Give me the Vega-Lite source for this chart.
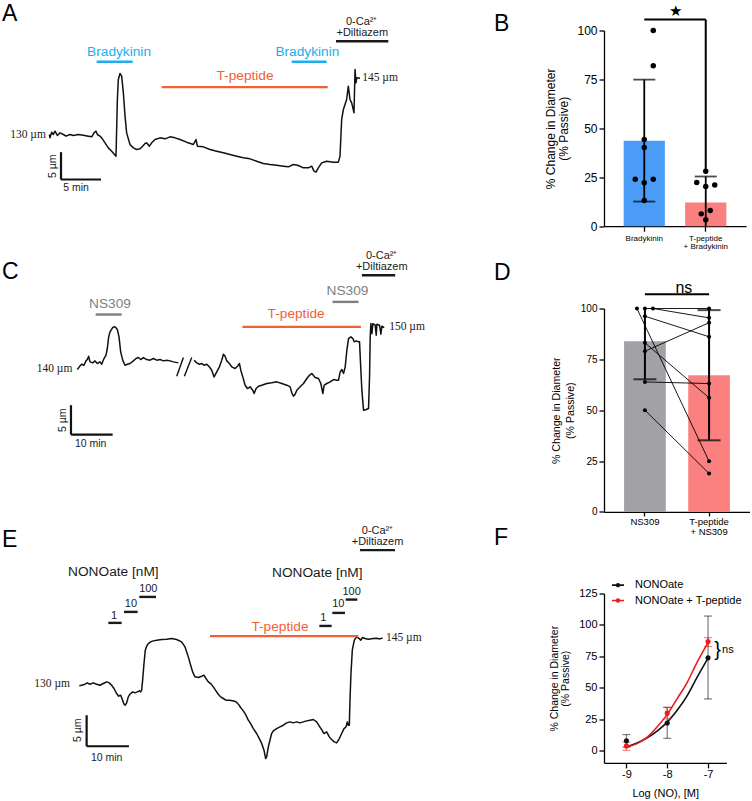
{
"$schema":"https://vega.github.io/schema/vega-lite/v6.json",
"background":"white",
"padding":{"top":2.5,"left":0,"right":0,"bottom":0},
"bounds":"flush",
"columns":2,
"spacing":{"row":0,"column":184},
"resolve":{"scale":{"x":"independent","y":"independent","color":"independent","size":"independent","xOffset":"independent","fill":"independent","stroke":"independent"}},
"config":{"view":{"stroke":null},"font":"Liberation Sans",
 "title":{"fontSize":23,"fontWeight":"normal","anchor":"start","frame":"group","offset":0,"color":"black","font":"Liberation Sans","baseline":"alphabetic"},
 "axis":{"domainColor":"black","tickColor":"black","labelColor":"black","titleColor":"black","grid":false,"titleFontWeight":"normal","domainWidth":1.3,"tickWidth":1.3,"labelFont":"Liberation Sans","titleFont":"Liberation Sans","labelOverlap":false}},
"datasets":{
"trace":[
{"p":"A","s":1,"t":-0.08,"d":130.37},{"p":"A","s":1,"t":0,"d":129.75},{"p":"A","s":1,"t":0.21,"d":130.8},{"p":"A","s":1,"t":0.42,"d":130.37},{"p":"A","s":1,"t":0.63,"d":130.99},{"p":"A","s":1,"t":0.92,"d":130.19},{"p":"A","s":1,"t":1.25,"d":130.68},{"p":"A","s":1,"t":1.67,"d":130.37},{"p":"A","s":1,"t":2.0,"d":130.06},{"p":"A","s":1,"t":2.5,"d":130.37},{"p":"A","s":1,"t":2.92,"d":130.19},{"p":"A","s":1,"t":3.54,"d":130.37},{"p":"A","s":1,"t":4.17,"d":130.25},{"p":"A","s":1,"t":4.79,"d":130.06},{"p":"A","s":1,"t":5.21,"d":129.94},{"p":"A","s":1,"t":5.5,"d":130.68},{"p":"A","s":1,"t":5.75,"d":130.99},{"p":"A","s":1,"t":5.92,"d":130.37},{"p":"A","s":1,"t":6.25,"d":130.06},{"p":"A","s":1,"t":6.46,"d":129.75},{"p":"A","s":1,"t":6.88,"d":128.83},{"p":"A","s":1,"t":7.29,"d":127.9},{"p":"A","s":1,"t":7.71,"d":127.28},{"p":"A","s":1,"t":8.25,"d":126.36},{"p":"A","s":1,"t":8.42,"d":136.85},{"p":"A","s":1,"t":8.54,"d":140.56},{"p":"A","s":1,"t":8.75,"d":141.67},{"p":"A","s":1,"t":8.96,"d":141.17},{"p":"A","s":1,"t":9.17,"d":138.09},{"p":"A","s":1,"t":9.38,"d":133.77},{"p":"A","s":1,"t":9.58,"d":130.68},{"p":"A","s":1,"t":10.0,"d":128.52},{"p":"A","s":1,"t":10.42,"d":127.9},{"p":"A","s":1,"t":10.83,"d":127.59},{"p":"A","s":1,"t":11.25,"d":127.72},{"p":"A","s":1,"t":11.58,"d":128.21},{"p":"A","s":1,"t":11.88,"d":128.7},{"p":"A","s":1,"t":12.08,"d":128.83},{"p":"A","s":1,"t":12.42,"d":128.21},{"p":"A","s":1,"t":12.71,"d":128.83},{"p":"A","s":1,"t":13.13,"d":129.44},{"p":"A","s":1,"t":13.75,"d":129.75},{"p":"A","s":1,"t":14.38,"d":129.57},{"p":"A","s":1,"t":15.0,"d":129.94},{"p":"A","s":1,"t":15.63,"d":129.75},{"p":"A","s":1,"t":16.25,"d":129.44},{"p":"A","s":1,"t":17.08,"d":128.95},{"p":"A","s":1,"t":17.92,"d":128.52},{"p":"A","s":1,"t":18.25,"d":129.44},{"p":"A","s":1,"t":18.42,"d":128.21},{"p":"A","s":1,"t":19.17,"d":128.09},{"p":"A","s":1,"t":20.0,"d":127.59},{"p":"A","s":1,"t":20.83,"d":127.28},{"p":"A","s":1,"t":21.67,"d":126.98},{"p":"A","s":1,"t":22.5,"d":126.67},{"p":"A","s":1,"t":23.33,"d":126.36},{"p":"A","s":1,"t":24.17,"d":126.05},{"p":"A","s":1,"t":25.0,"d":125.86},{"p":"A","s":1,"t":25.83,"d":125.43},{"p":"A","s":1,"t":26.67,"d":125.0},{"p":"A","s":1,"t":27.5,"d":124.81},{"p":"A","s":1,"t":28.33,"d":124.69},{"p":"A","s":1,"t":29.17,"d":124.51},{"p":"A","s":1,"t":29.79,"d":124.38},{"p":"A","s":1,"t":30.42,"d":124.81},{"p":"A","s":1,"t":31.04,"d":124.63},{"p":"A","s":1,"t":31.67,"d":124.2},{"p":"A","s":1,"t":32.29,"d":124.2},{"p":"A","s":1,"t":32.71,"d":124.51},{"p":"A","s":1,"t":33.0,"d":123.58},{"p":"A","s":1,"t":33.25,"d":123.4},{"p":"A","s":1,"t":33.54,"d":124.2},{"p":"A","s":1,"t":33.96,"d":125.12},{"p":"A","s":1,"t":34.58,"d":125.43},{"p":"A","s":1,"t":35.42,"d":125.25},{"p":"A","s":1,"t":36.04,"d":125.25},{"p":"A","s":1,"t":36.25,"d":126.36},{"p":"A","s":1,"t":36.46,"d":133.15},{"p":"A","s":1,"t":36.67,"d":135.0},{"p":"A","s":1,"t":37.08,"d":136.85},{"p":"A","s":1,"t":37.29,"d":139.32},{"p":"A","s":1,"t":37.5,"d":136.85},{"p":"A","s":1,"t":37.71,"d":136.23},{"p":"A","s":1,"t":38.0,"d":134.38},{"p":"A","s":1,"t":38.13,"d":142.41},{"p":"A","s":1,"t":38.25,"d":139.94},{"p":"A","s":1,"t":38.33,"d":140.86},{"p":"A","s":1,"t":38.75,"d":140.8},
{"p":"C","s":1,"t":0,"d":139.99},{"p":"C","s":1,"t":0.48,"d":140.45},{"p":"C","s":1,"t":1.04,"d":140.9},{"p":"C","s":1,"t":1.6,"d":140.73},{"p":"C","s":1,"t":2.08,"d":141.47},{"p":"C","s":1,"t":2.4,"d":141.7},{"p":"C","s":1,"t":2.72,"d":142.27},{"p":"C","s":1,"t":3.04,"d":141.3},{"p":"C","s":1,"t":3.68,"d":141.13},{"p":"C","s":1,"t":4.24,"d":141.47},{"p":"C","s":1,"t":4.8,"d":141.02},{"p":"C","s":1,"t":5.44,"d":141.3},{"p":"C","s":1,"t":5.84,"d":140.9},{"p":"C","s":1,"t":6.4,"d":141.87},{"p":"C","s":1,"t":6.88,"d":142.44},{"p":"C","s":1,"t":7.2,"d":143.58},{"p":"C","s":1,"t":7.52,"d":145.57},{"p":"C","s":1,"t":7.84,"d":146.42},{"p":"C","s":1,"t":8.48,"d":147.16},{"p":"C","s":1,"t":9.04,"d":147.28},{"p":"C","s":1,"t":9.6,"d":146.82},{"p":"C","s":1,"t":10.0,"d":145.57},{"p":"C","s":1,"t":10.4,"d":143.01},{"p":"C","s":1,"t":10.88,"d":141.59},{"p":"C","s":1,"t":11.44,"d":140.73},{"p":"C","s":1,"t":12.0,"d":140.9},{"p":"C","s":1,"t":12.64,"d":141.02},{"p":"C","s":1,"t":13.44,"d":141.47},{"p":"C","s":1,"t":14.08,"d":141.87},{"p":"C","s":1,"t":14.64,"d":142.04},{"p":"C","s":1,"t":15.2,"d":141.7},{"p":"C","s":1,"t":15.84,"d":142.04},{"p":"C","s":1,"t":16.64,"d":141.7},{"p":"C","s":1,"t":17.44,"d":141.59},{"p":"C","s":1,"t":18.24,"d":141.87},{"p":"C","s":1,"t":19.04,"d":141.59},{"p":"C","s":1,"t":19.84,"d":141.7},{"p":"C","s":1,"t":20.64,"d":141.47},{"p":"C","s":1,"t":21.44,"d":141.59},{"p":"C","s":1,"t":22.24,"d":141.47},{"p":"C","s":1,"t":23.04,"d":141.3},{"p":"C","s":1,"t":24.24,"d":141.13},
{"p":"C","s":2,"t":28.0,"d":141.59},{"p":"C","s":2,"t":28.64,"d":141.13},{"p":"C","s":2,"t":29.28,"d":140.9},{"p":"C","s":2,"t":29.84,"d":141.02},{"p":"C","s":2,"t":30.4,"d":140.73},{"p":"C","s":2,"t":31.04,"d":140.9},{"p":"C","s":2,"t":31.68,"d":140.45},{"p":"C","s":2,"t":32.24,"d":139.88},{"p":"C","s":2,"t":32.8,"d":138.74},{"p":"C","s":2,"t":33.44,"d":139.6},{"p":"C","s":2,"t":34.08,"d":140.45},{"p":"C","s":2,"t":34.64,"d":141.59},{"p":"C","s":2,"t":35.04,"d":142.61},{"p":"C","s":2,"t":35.44,"d":142.27},{"p":"C","s":2,"t":35.84,"d":141.47},{"p":"C","s":2,"t":36.48,"d":141.02},{"p":"C","s":2,"t":37.04,"d":140.45},{"p":"C","s":2,"t":37.84,"d":140.17},{"p":"C","s":2,"t":38.4,"d":140.56},{"p":"C","s":2,"t":38.88,"d":141.02},{"p":"C","s":2,"t":39.2,"d":139.88},{"p":"C","s":2,"t":39.68,"d":138.74},{"p":"C","s":2,"t":40.24,"d":137.32},{"p":"C","s":2,"t":40.8,"d":136.75},{"p":"C","s":2,"t":41.44,"d":137.04},{"p":"C","s":2,"t":42.08,"d":136.47},{"p":"C","s":2,"t":42.4,"d":135.9},{"p":"C","s":2,"t":42.88,"d":136.75},{"p":"C","s":2,"t":43.44,"d":137.15},{"p":"C","s":2,"t":44.24,"d":137.32},{"p":"C","s":2,"t":45.44,"d":137.61},{"p":"C","s":2,"t":46.64,"d":137.72},{"p":"C","s":2,"t":47.84,"d":137.89},{"p":"C","s":2,"t":49.04,"d":137.61},{"p":"C","s":2,"t":50.24,"d":137.32},{"p":"C","s":2,"t":51.04,"d":137.04},{"p":"C","s":2,"t":51.44,"d":136.02},{"p":"C","s":2,"t":51.84,"d":135.45},{"p":"C","s":2,"t":52.24,"d":135.79},{"p":"C","s":2,"t":52.64,"d":136.47},{"p":"C","s":2,"t":53.44,"d":137.04},{"p":"C","s":2,"t":54.24,"d":137.61},{"p":"C","s":2,"t":55.04,"d":138.46},{"p":"C","s":2,"t":55.68,"d":139.03},{"p":"C","s":2,"t":56.24,"d":139.31},{"p":"C","s":2,"t":57.04,"d":138.63},{"p":"C","s":2,"t":57.84,"d":138.46},{"p":"C","s":2,"t":58.4,"d":137.61},{"p":"C","s":2,"t":58.88,"d":135.9},{"p":"C","s":2,"t":59.2,"d":137.32},{"p":"C","s":2,"t":59.84,"d":137.61},{"p":"C","s":2,"t":60.64,"d":137.89},{"p":"C","s":2,"t":61.44,"d":138.29},{"p":"C","s":2,"t":62.24,"d":138.17},{"p":"C","s":2,"t":62.64,"d":138.17},{"p":"C","s":2,"t":63.04,"d":139.6},{"p":"C","s":2,"t":63.44,"d":139.99},{"p":"C","s":2,"t":63.84,"d":139.31},{"p":"C","s":2,"t":64.24,"d":140.45},{"p":"C","s":2,"t":64.64,"d":143.29},{"p":"C","s":2,"t":65.04,"d":145.28},{"p":"C","s":2,"t":65.6,"d":145.57},{"p":"C","s":2,"t":66.08,"d":145.28},{"p":"C","s":2,"t":66.4,"d":144.72},{"p":"C","s":2,"t":66.88,"d":144.89},{"p":"C","s":2,"t":67.44,"d":144.72},{"p":"C","s":2,"t":67.68,"d":144.72},{"p":"C","s":2,"t":68.0,"d":139.88},{"p":"C","s":2,"t":68.24,"d":136.47},{"p":"C","s":2,"t":68.64,"d":133.06},{"p":"C","s":2,"t":69.28,"d":133.17},{"p":"C","s":2,"t":69.84,"d":133.34},{"p":"C","s":2,"t":70.08,"d":138.74},{"p":"C","s":2,"t":70.24,"d":145.57},{"p":"C","s":2,"t":70.4,"d":147.84},{"p":"C","s":2,"t":70.64,"d":146.13},{"p":"C","s":2,"t":70.88,"d":147.84},{"p":"C","s":2,"t":71.44,"d":147.56},{"p":"C","s":2,"t":71.68,"d":145.85},{"p":"C","s":2,"t":71.84,"d":147.73},{"p":"C","s":2,"t":72.48,"d":147.56},{"p":"C","s":2,"t":72.8,"d":146.02},{"p":"C","s":2,"t":73.04,"d":147.39},{"p":"C","s":2,"t":73.6,"d":147.16},
{"p":"E","s":1,"t":0,"d":130.01},{"p":"E","s":1,"t":0.55,"d":130.11},{"p":"E","s":1,"t":1.34,"d":130.27},{"p":"E","s":1,"t":1.89,"d":130.49},{"p":"E","s":1,"t":2.52,"d":130.27},{"p":"E","s":1,"t":3.31,"d":130.49},{"p":"E","s":1,"t":4.1,"d":130.27},{"p":"E","s":1,"t":4.89,"d":130.11},{"p":"E","s":1,"t":5.67,"d":130.38},{"p":"E","s":1,"t":6.46,"d":130.65},{"p":"E","s":1,"t":7.09,"d":130.49},{"p":"E","s":1,"t":7.64,"d":130.11},{"p":"E","s":1,"t":8.2,"d":129.58},{"p":"E","s":1,"t":8.83,"d":128.77},{"p":"E","s":1,"t":9.3,"d":128.34},{"p":"E","s":1,"t":9.77,"d":128.5},{"p":"E","s":1,"t":10.24,"d":127.69},{"p":"E","s":1,"t":10.56,"d":127.05},{"p":"E","s":1,"t":10.87,"d":126.89},{"p":"E","s":1,"t":11.19,"d":127.27},{"p":"E","s":1,"t":11.58,"d":128.23},{"p":"E","s":1,"t":11.98,"d":128.66},{"p":"E","s":1,"t":12.61,"d":129.04},{"p":"E","s":1,"t":13.16,"d":128.88},{"p":"E","s":1,"t":13.71,"d":129.04},{"p":"E","s":1,"t":14.18,"d":129.2},{"p":"E","s":1,"t":14.5,"d":129.04},{"p":"E","s":1,"t":14.74,"d":129.31},{"p":"E","s":1,"t":14.97,"d":130.92},{"p":"E","s":1,"t":15.29,"d":133.61},{"p":"E","s":1,"t":15.6,"d":135.76},{"p":"E","s":1,"t":15.92,"d":136.4},{"p":"E","s":1,"t":16.31,"d":136.83},{"p":"E","s":1,"t":16.86,"d":137.1},{"p":"E","s":1,"t":17.49,"d":137.26},{"p":"E","s":1,"t":18.28,"d":137.37},{"p":"E","s":1,"t":19.46,"d":137.48},{"p":"E","s":1,"t":20.65,"d":137.53},{"p":"E","s":1,"t":21.83,"d":137.64},{"p":"E","s":1,"t":23.01,"d":137.48},{"p":"E","s":1,"t":24.19,"d":137.1},{"p":"E","s":1,"t":24.98,"d":136.3},{"p":"E","s":1,"t":25.77,"d":134.68},{"p":"E","s":1,"t":26.32,"d":133.34},{"p":"E","s":1,"t":26.79,"d":132.26},{"p":"E","s":1,"t":27.34,"d":131.46},{"p":"E","s":1,"t":28.13,"d":131.35},{"p":"E","s":1,"t":28.92,"d":131.56},{"p":"E","s":1,"t":29.47,"d":131.73},{"p":"E","s":1,"t":29.94,"d":131.19},{"p":"E","s":1,"t":30.5,"d":130.65},{"p":"E","s":1,"t":31.05,"d":130.38},{"p":"E","s":1,"t":31.68,"d":129.84},{"p":"E","s":1,"t":32.31,"d":129.2},{"p":"E","s":1,"t":32.86,"d":128.66},{"p":"E","s":1,"t":33.41,"d":128.23},{"p":"E","s":1,"t":34.04,"d":127.97},{"p":"E","s":1,"t":34.67,"d":127.7},{"p":"E","s":1,"t":35.46,"d":127.7},{"p":"E","s":1,"t":36.25,"d":127.59},{"p":"E","s":1,"t":37.04,"d":127.43},{"p":"E","s":1,"t":37.59,"d":127.05},{"p":"E","s":1,"t":38.14,"d":126.51},{"p":"E","s":1,"t":38.77,"d":125.97},{"p":"E","s":1,"t":39.4,"d":125.27},{"p":"E","s":1,"t":39.95,"d":124.47},{"p":"E","s":1,"t":40.5,"d":123.93},{"p":"E","s":1,"t":41.14,"d":123.12},{"p":"E","s":1,"t":41.92,"d":122.32},{"p":"E","s":1,"t":42.55,"d":121.51},{"p":"E","s":1,"t":43.18,"d":120.6},{"p":"E","s":1,"t":43.66,"d":119.63},{"p":"E","s":1,"t":44.05,"d":118.28},{"p":"E","s":1,"t":44.29,"d":118.55},{"p":"E","s":1,"t":44.68,"d":120.17},{"p":"E","s":1,"t":45.07,"d":121.24},{"p":"E","s":1,"t":45.47,"d":122.32},{"p":"E","s":1,"t":45.86,"d":122.75},{"p":"E","s":1,"t":46.65,"d":123.12},{"p":"E","s":1,"t":47.44,"d":123.39},{"p":"E","s":1,"t":48.23,"d":123.66},{"p":"E","s":1,"t":49.01,"d":124.04},{"p":"E","s":1,"t":49.8,"d":124.2},{"p":"E","s":1,"t":50.59,"d":124.04},{"p":"E","s":1,"t":51.38,"d":124.2},{"p":"E","s":1,"t":52.17,"d":124.04},{"p":"E","s":1,"t":52.96,"d":124.2},{"p":"E","s":1,"t":53.74,"d":124.36},{"p":"E","s":1,"t":54.53,"d":124.47},{"p":"E","s":1,"t":55.32,"d":124.58},{"p":"E","s":1,"t":56.11,"d":124.2},{"p":"E","s":1,"t":56.74,"d":123.5},{"p":"E","s":1,"t":57.29,"d":122.96},{"p":"E","s":1,"t":57.84,"d":122.32},{"p":"E","s":1,"t":58.47,"d":122.58},{"p":"E","s":1,"t":59.1,"d":121.78},{"p":"E","s":1,"t":59.65,"d":121.35},{"p":"E","s":1,"t":60.28,"d":120.97},{"p":"E","s":1,"t":60.84,"d":120.81},{"p":"E","s":1,"t":61.47,"d":121.51},{"p":"E","s":1,"t":62.02,"d":122.32},{"p":"E","s":1,"t":62.57,"d":123.12},{"p":"E","s":1,"t":63.04,"d":123.39},{"p":"E","s":1,"t":63.36,"d":124.2},{"p":"E","s":1,"t":63.59,"d":123.66},{"p":"E","s":1,"t":63.83,"d":123.66},{"p":"E","s":1,"t":63.99,"d":127.69},{"p":"E","s":1,"t":64.22,"d":131.99},{"p":"E","s":1,"t":64.54,"d":135.76},{"p":"E","s":1,"t":65.01,"d":137.37},{"p":"E","s":1,"t":65.56,"d":137.91},{"p":"E","s":1,"t":66.19,"d":137.64},{"p":"E","s":1,"t":66.51,"d":137.37},{"p":"E","s":1,"t":66.98,"d":137.8},{"p":"E","s":1,"t":67.53,"d":137.64},{"p":"E","s":1,"t":68.32,"d":137.53},{"p":"E","s":1,"t":69.5,"d":137.64},{"p":"E","s":1,"t":70.29,"d":137.69},{"p":"E","s":1,"t":71.08,"d":137.58},{"p":"E","s":1,"t":71.71,"d":137.75}
],
"rules":[
{"p":"A","k":"drug","a":"Bradykinin","t1":5.83,"t2":10.33,"d1":143.83,"d2":143.83},
{"p":"A","k":"drug","a":"Bradykinin","t1":30.21,"t2":34.58,"d1":143.83,"d2":143.83},
{"p":"A","k":"drug","a":"T-peptide","t1":13.96,"t2":34.71,"d1":139.14,"d2":139.14},
{"p":"A","k":"drug","a":"0-Ca","t1":35.75,"t2":42.29,"d1":147.65,"d2":147.65},
{"p":"A","k":"scale","a":"x","t1":1.375,"t2":1.375,"d1":127.1,"d2":122.04},
{"p":"A","k":"scale","a":"x","t1":1.375,"t2":6.375,"d1":122.04,"d2":122.04},
{"p":"C","k":"drug","a":"NS309","t1":4.4,"t2":10.64,"d1":149.38,"d2":149.38},
{"p":"C","k":"drug","a":"NS309","t1":61.2,"t2":67.44,"d1":151.54,"d2":151.54},
{"p":"C","k":"drug","a":"T-peptide","t1":39.6,"t2":68.0,"d1":147.27,"d2":147.27},
{"p":"C","k":"drug","a":"0-Ca","t1":68.24,"t2":76.24,"d1":156.09,"d2":156.09},
{"p":"C","k":"scale","a":"x","t1":-1.52,"t2":-1.52,"d1":133.91,"d2":128.9},
{"p":"C","k":"scale","a":"x","t1":-1.52,"t2":8.48,"d1":128.9,"d2":128.9},
{"p":"C","k":"slash","a":"x","t1":23.84,"t2":25.44,"d1":138.86,"d2":142.04},
{"p":"C","k":"slash","a":"x","t1":25.68,"t2":27.44,"d1":138.86,"d2":142.04},
{"p":"E","k":"drug","a":"NONOate","t1":6.86,"t2":10.01,"d1":140.16,"d2":140.16},
{"p":"E","k":"drug","a":"NONOate","t1":10.56,"t2":13.79,"d1":141.93,"d2":141.93},
{"p":"E","k":"drug","a":"NONOate","t1":14.18,"t2":18.12,"d1":144.35,"d2":144.35},
{"p":"E","k":"drug","a":"NONOate","t1":56.74,"t2":59.65,"d1":139.67,"d2":139.67},
{"p":"E","k":"drug","a":"NONOate","t1":59.81,"t2":62.8,"d1":141.77,"d2":141.77},
{"p":"E","k":"drug","a":"NONOate","t1":62.96,"t2":65.72,"d1":143.92,"d2":143.92},
{"p":"E","k":"drug","a":"T-peptide","t1":30.89,"t2":65.96,"d1":138.02,"d2":138.02},
{"p":"E","k":"drug","a":"0-Ca","t1":66.36,"t2":74.63,"d1":151.89,"d2":151.89},
{"p":"E","k":"scale","a":"x","t1":1.73,"t2":1.73,"d1":125.27,"d2":120.27},
{"p":"E","k":"scale","a":"x","t1":1.73,"t2":11.73,"d1":120.27,"d2":120.27}
],
"labels":[
{"p":"A","k":"agent","a":"Bradykinin","text":"Bradykinin","t":8.63,"d":145.62},
{"p":"A","k":"agent","a":"Bradykinin","text":"Bradykinin","t":32.17,"d":145.62},
{"p":"A","k":"agent","a":"T-peptide","text":"T-peptide","t":24.38,"d":141.17},
{"p":"A","k":"small","a":"x","text":"0-Ca²⁺","t":38.96,"d":151.17},
{"p":"A","k":"small","a":"x","text":"+Diltiazem","t":39.04,"d":149.2},
{"p":"A","k":"um","a":"x","text":"130 µm","t":-2.75,"d":130.19},
{"p":"A","k":"um","a":"x","text":"145 µm","t":41.25,"d":140.86},
{"p":"A","k":"scale","a":"x","text":"5 min","t":3.25,"d":120.49},
{"p":"A","k":"scaley","a":"x","text":"5 µm","t":0.42,"d":124.51},
{"p":"C","k":"agent","a":"NS309","text":"NS309","t":7.84,"d":151.25},
{"p":"C","k":"agent","a":"NS309","text":"NS309","t":64.8,"d":153.42},
{"p":"C","k":"agent","a":"T-peptide","text":"T-peptide","t":52.48,"d":149.43},
{"p":"C","k":"small","a":"x","text":"0-Ca²⁺","t":73.0,"d":159.33},
{"p":"C","k":"small","a":"x","text":"+Diltiazem","t":73.0,"d":157.53},
{"p":"C","k":"um","a":"x","text":"140 µm","t":-5.47,"d":140},
{"p":"C","k":"um","a":"x","text":"150 µm","t":79.06,"d":147.27},
{"p":"C","k":"scale","a":"x","text":"10 min","t":3.2,"d":127.25},
{"p":"C","k":"scaley","a":"x","text":"5 µm","t":-3.36,"d":131.35},
{"p":"E","k":"agent","a":"NONOate","text":"NONOate [nM]","t":8.04,"d":148.39},
{"p":"E","k":"agent","a":"NONOate","text":"NONOate [nM]","t":56.26,"d":148.23},
{"p":"E","k":"small","a":"x","text":"1","t":8.2,"d":141.24},
{"p":"E","k":"small","a":"x","text":"10","t":12.21,"d":143.28},
{"p":"E","k":"small","a":"x","text":"100","t":16.31,"d":145.7},
{"p":"E","k":"small","a":"x","text":"1","t":57.68,"d":141.0},
{"p":"E","k":"small","a":"x","text":"10","t":61.23,"d":143.17},
{"p":"E","k":"small","a":"x","text":"100","t":64.38,"d":145.16},
{"p":"E","k":"agent","a":"T-peptide","text":"T-peptide","t":47.44,"d":139.52},
{"p":"E","k":"small","a":"x","text":"0-Ca²⁺","t":70.5,"d":154.95},
{"p":"E","k":"small","a":"x","text":"+Diltiazem","t":70.5,"d":153.24},
{"p":"E","k":"um","a":"x","text":"130 µm","t":-6.41,"d":130.27},
{"p":"E","k":"um","a":"x","text":"145 µm","t":76.7,"d":137.8},
{"p":"E","k":"scale","a":"x","text":"10 min","t":6.46,"d":118.45},
{"p":"E","k":"scaley","a":"x","text":"5 µm","t":-0.24,"d":122.85}
],
"statsB":[{"g":"Bradykinin","mean":43.6,"lo":12.6,"hi":74.9},{"g":"T-peptide|+ Bradykinin","mean":12.1,"lo":0,"hi":25.4}],
"capsB":[{"g":"Bradykinin","v":12.6},{"g":"Bradykinin","v":74.9},{"g":"T-peptide|+ Bradykinin","v":25.4}],
"ptsB":[{"g":"Bradykinin","v":100,"j":1},{"g":"Bradykinin","v":82,"j":1},{"g":"Bradykinin","v":44.3,"j":0},{"g":"Bradykinin","v":40.2,"j":0},{"g":"Bradykinin","v":24,"j":-1},{"g":"Bradykinin","v":24,"j":1},{"g":"Bradykinin","v":22.2,"j":0},{"g":"Bradykinin","v":13.1,"j":0},
{"g":"T-peptide|+ Bradykinin","v":28.1,"j":0},{"g":"T-peptide|+ Bradykinin","v":22.3,"j":-1},{"g":"T-peptide|+ Bradykinin","v":20.3,"j":0},{"g":"T-peptide|+ Bradykinin","v":21.1,"j":1},{"g":"T-peptide|+ Bradykinin","v":6.3,"j":-0.5},{"g":"T-peptide|+ Bradykinin","v":8.0,"j":0.5},{"g":"T-peptide|+ Bradykinin","v":3.3,"j":0}],
"sigB":[{"a":"Bradykinin","b":"T-peptide|+ Bradykinin","y1":105.6,"y2":105.6},{"a":"T-peptide|+ Bradykinin","b":"T-peptide|+ Bradykinin","y1":105.6,"y2":27}],
"starB":[{"a":"Bradykinin","label":"★","y":110}],
"statsD":[{"g":"NS309","mean":83.9,"lo":65.2,"hi":100},{"g":"T-peptide|+ NS309","mean":67.2,"lo":35.2,"hi":99.2}],
"capsD":[{"g":"NS309","v":65.2},{"g":"T-peptide|+ NS309","v":35.2},{"g":"T-peptide|+ NS309","v":99.2}],
"ptsD":[{"pair":1,"g":"NS309","v":100,"j":-1},{"pair":1,"g":"T-peptide|+ NS309","v":24.9,"j":0},
{"pair":2,"g":"NS309","v":100,"j":0},{"pair":2,"g":"T-peptide|+ NS309","v":100,"j":0},
{"pair":3,"g":"NS309","v":100,"j":1},{"pair":3,"g":"T-peptide|+ NS309","v":95.4,"j":0},
{"pair":4,"g":"NS309","v":96.2,"j":0},{"pair":4,"g":"T-peptide|+ NS309","v":86.1,"j":0},
{"pair":5,"g":"NS309","v":83.1,"j":0},{"pair":5,"g":"T-peptide|+ NS309","v":56.1,"j":0},
{"pair":6,"g":"NS309","v":79.0,"j":0},{"pair":6,"g":"T-peptide|+ NS309","v":93.0,"j":0},
{"pair":7,"g":"NS309","v":63.9,"j":0},{"pair":7,"g":"T-peptide|+ NS309","v":63.1,"j":0},
{"pair":8,"g":"NS309","v":50.0,"j":0},{"pair":8,"g":"T-peptide|+ NS309","v":18.9,"j":0}],
"sigD":[{"a":"NS309","b":"T-peptide|+ NS309","y1":107,"y2":107}],
"nsD":[{"a":"NS309","label":"ns","y":110.3}],
"fcurve":[
{"s":"NONOate","x":-9,"y":3.2},{"s":"NONOate","x":-8.74,"y":6.3},{"s":"NONOate","x":-8.49,"y":10.5},{"s":"NONOate","x":-8.25,"y":15.8},{"s":"NONOate","x":-8,"y":22.9},{"s":"NONOate","x":-7.76,"y":32.1},{"s":"NONOate","x":-7.51,"y":43.9},{"s":"NONOate","x":-7.27,"y":58.4},{"s":"NONOate","x":-7,"y":73.7},
{"s":"NONOate + T-peptide","x":-9,"y":3.2},{"s":"NONOate + T-peptide","x":-8.74,"y":5.8},{"s":"NONOate + T-peptide","x":-8.49,"y":11},{"s":"NONOate + T-peptide","x":-8.25,"y":19},{"s":"NONOate + T-peptide","x":-8,"y":29},{"s":"NONOate + T-peptide","x":-7.76,"y":41.3},{"s":"NONOate + T-peptide","x":-7.51,"y":54.5},{"s":"NONOate + T-peptide","x":-7.27,"y":70.3},{"s":"NONOate + T-peptide","x":-7,"y":86}],
"fpts":[
{"s":"NONOate","x":-9,"m":8,"lo":3,"hi":13},{"s":"NONOate","x":-8,"m":22.2,"lo":10,"hi":34.5},{"s":"NONOate","x":-7,"m":73.9,"lo":41.3,"hi":107.1},
{"s":"NONOate + T-peptide","x":-9,"m":4,"lo":0.5,"hi":7.1},{"s":"NONOate + T-peptide","x":-8,"m":30,"lo":25.5,"hi":34.7},{"s":"NONOate + T-peptide","x":-7,"m":86.8,"lo":82.9,"hi":90}],
"fns":[{"x":-7,"y":80.35}]
},
"concat":[
{"width":420,"height":277.3,
 "title":{"text":"A","dx":2,"dy":13.5},
 "layer":[
  {"data":{"name":"trace"},"transform":[{"filter":"datum.p==='A'"}],"mark":{"type":"line","color":"#111111","strokeWidth":1.5,"strokeJoin":"round"},
   "encoding":{"x":{"field":"t","type":"quantitative","scale":{"domain":[-6.25,46.25],"nice":false,"zero":false},"axis":null},
    "y":{"field":"d","type":"quantitative","scale":{"domain":[98.28,149.63],"nice":false,"zero":false},"axis":null},"detail":{"field":"s"}}},
  {"data":{"name":"rules"},"transform":[{"filter":"datum.p==='A' && datum.k==='drug'"}],"mark":{"type":"rule","strokeWidth":2.4},
   "encoding":{"x":{"field":"t1","type":"quantitative"},"x2":{"field":"t2"},"y":{"field":"d1","type":"quantitative"},"y2":{"field":"d2"},
    "color":{"field":"a","type":"nominal","scale":{"domain":["Bradykinin","T-peptide","NS309","NONOate","0-Ca","x"],"range":["#1DAEEE","#F26135","#7F7F7F","#1A1A1A","#1A1A1A","#1A1A1A"]},"legend":null}}},
  {"data":{"name":"rules"},"transform":[{"filter":"datum.p==='A' && datum.k==='scale'"}],"mark":{"type":"rule","strokeWidth":2.2,"color":"#111111"},
   "encoding":{"x":{"field":"t1","type":"quantitative"},"x2":{"field":"t2"},"y":{"field":"d1","type":"quantitative"},"y2":{"field":"d2"}}},
  {"data":{"name":"labels"},"transform":[{"filter":"datum.p==='A' && datum.k==='agent'"}],"mark":{"type":"text","fontSize":13.7,"baseline":"middle"},
   "encoding":{"x":{"field":"t","type":"quantitative"},"y":{"field":"d","type":"quantitative"},"text":{"field":"text"},"color":{"field":"a","type":"nominal","legend":null}}},
  {"data":{"name":"labels"},"transform":[{"filter":"datum.p==='A' && datum.k==='small'"}],"mark":{"type":"text","fontSize":11,"baseline":"middle","color":"#1A1A1A"},
   "encoding":{"x":{"field":"t","type":"quantitative"},"y":{"field":"d","type":"quantitative"},"text":{"field":"text"}}},
  {"data":{"name":"labels"},"transform":[{"filter":"datum.p==='A' && datum.k==='um'"}],"mark":{"type":"text","fontSize":11.5,"font":"Liberation Serif","baseline":"middle","color":"#1A1A1A"},
   "encoding":{"x":{"field":"t","type":"quantitative"},"y":{"field":"d","type":"quantitative"},"text":{"field":"text"}}},
  {"data":{"name":"labels"},"transform":[{"filter":"datum.p==='A' && datum.k==='scale'"}],"mark":{"type":"text","fontSize":10.5,"baseline":"middle","color":"#1A1A1A"},
   "encoding":{"x":{"field":"t","type":"quantitative"},"y":{"field":"d","type":"quantitative"},"text":{"field":"text"}}},
  {"data":{"name":"labels"},"transform":[{"filter":"datum.p==='A' && datum.k==='scaley'"}],"mark":{"type":"text","fontSize":10.5,"baseline":"middle","angle":270,"color":"#1A1A1A"},
   "encoding":{"x":{"field":"t","type":"quantitative"},"y":{"field":"d","type":"quantitative"},"text":{"field":"text"}}}
 ]},
{"width":142,"height":195.7,
 "title":{"text":"B","dx":-110,"dy":36},
 "layer":[
  {"data":{"name":"statsB"},"mark":{"type":"bar","width":41.2},
   "encoding":{"x":{"field":"g","type":"nominal","sort":null,"scale":{"domain":["Bradykinin","T-peptide|+ Bradykinin"],"paddingInner":0.33,"paddingOuter":0.32},
     "axis":{"title":null,"labelAngle":0,"labelFontSize":8,"labelExpr":"split(datum.label,'|')","labelLineHeight":8,"tickSize":5,"labelPadding":3}},
    "y":{"field":"mean","type":"quantitative","scale":{"domain":[0,100],"nice":false},
     "axis":{"values":[0,25,50,75,100],"title":["% Change in Diameter","(% Passive)"],"titleFontSize":12,"labelFontSize":12,"tickSize":5,"labelPadding":2,"titlePadding":6,"titleLineHeight":13.5}},
    "color":{"field":"g","type":"nominal","scale":{"domain":["Bradykinin","T-peptide|+ Bradykinin"],"range":["#4A9CF6","#FA7F7F"]},"legend":null}}},
  {"data":{"name":"statsB"},"mark":{"type":"rule","strokeWidth":1.8,"color":"black"},
   "encoding":{"x":{"field":"g","type":"nominal"},"y":{"field":"lo","type":"quantitative"},"y2":{"field":"hi"}}},
  {"data":{"name":"capsB"},"mark":{"type":"tick","size":22,"thickness":1.8,"color":"black"},
   "encoding":{"x":{"field":"g","type":"nominal"},"y":{"field":"v","type":"quantitative"}}},
  {"data":{"name":"ptsB"},"mark":{"type":"circle","size":30,"color":"black","opacity":1},
   "encoding":{"x":{"field":"g","type":"nominal"},"xOffset":{"field":"j","type":"quantitative","scale":{"domain":[-1,1],"range":[11.6,29.6]}},"y":{"field":"v","type":"quantitative"}}},
  {"data":{"name":"sigB"},"mark":{"type":"rule","strokeWidth":2,"color":"black"},
   "encoding":{"x":{"field":"a","type":"nominal"},"x2":{"field":"b"},"y":{"field":"y1","type":"quantitative"},"y2":{"field":"y2"}}},
  {"data":{"name":"starB"},"mark":{"type":"text","fontSize":15,"dx":31,"baseline":"middle","color":"black"},
   "encoding":{"x":{"field":"a","type":"nominal"},"y":{"field":"y","type":"quantitative"},"text":{"field":"label"}}}
 ]},
{"width":420,"height":285,
 "title":{"text":"C","dx":2,"dy":38},
 "layer":[
  {"data":{"name":"trace"},"transform":[{"filter":"datum.p==='C'"}],"mark":{"type":"line","color":"#111111","strokeWidth":1.5,"strokeJoin":"round"},
   "encoding":{"x":{"field":"t","type":"quantitative","scale":{"domain":[-18.54,82.18],"nice":false,"zero":false},"axis":null},
    "y":{"field":"d","type":"quantitative","scale":{"domain":[101.77,150.41],"nice":false,"zero":false},"axis":null},"detail":{"field":"s"}}},
  {"data":{"name":"rules"},"transform":[{"filter":"datum.p==='C' && datum.k==='drug'"}],"mark":{"type":"rule","strokeWidth":2.4},
   "encoding":{"x":{"field":"t1","type":"quantitative"},"x2":{"field":"t2"},"y":{"field":"d1","type":"quantitative"},"y2":{"field":"d2"},
    "color":{"field":"a","type":"nominal","scale":{"domain":["Bradykinin","T-peptide","NS309","NONOate","0-Ca","x"],"range":["#1DAEEE","#F26135","#7F7F7F","#1A1A1A","#1A1A1A","#1A1A1A"]},"legend":null}}},
  {"data":{"name":"rules"},"transform":[{"filter":"datum.p==='C' && datum.k==='scale'"}],"mark":{"type":"rule","strokeWidth":2.2,"color":"#111111"},
   "encoding":{"x":{"field":"t1","type":"quantitative"},"x2":{"field":"t2"},"y":{"field":"d1","type":"quantitative"},"y2":{"field":"d2"}}},
  {"data":{"name":"rules"},"transform":[{"filter":"datum.p==='C' && datum.k==='slash'"}],"mark":{"type":"rule","strokeWidth":1.4,"color":"#111111"},
   "encoding":{"x":{"field":"t1","type":"quantitative"},"x2":{"field":"t2"},"y":{"field":"d1","type":"quantitative"},"y2":{"field":"d2"}}},
  {"data":{"name":"labels"},"transform":[{"filter":"datum.p==='C' && datum.k==='agent'"}],"mark":{"type":"text","fontSize":13.7,"baseline":"middle"},
   "encoding":{"x":{"field":"t","type":"quantitative"},"y":{"field":"d","type":"quantitative"},"text":{"field":"text"},"color":{"field":"a","type":"nominal","legend":null}}},
  {"data":{"name":"labels"},"transform":[{"filter":"datum.p==='C' && datum.k==='small'"}],"mark":{"type":"text","fontSize":11,"baseline":"middle","color":"#1A1A1A"},
   "encoding":{"x":{"field":"t","type":"quantitative"},"y":{"field":"d","type":"quantitative"},"text":{"field":"text"}}},
  {"data":{"name":"labels"},"transform":[{"filter":"datum.p==='C' && datum.k==='um'"}],"mark":{"type":"text","fontSize":11.5,"font":"Liberation Serif","baseline":"middle","color":"#1A1A1A"},
   "encoding":{"x":{"field":"t","type":"quantitative"},"y":{"field":"d","type":"quantitative"},"text":{"field":"text"}}},
  {"data":{"name":"labels"},"transform":[{"filter":"datum.p==='C' && datum.k==='scale'"}],"mark":{"type":"text","fontSize":10.5,"baseline":"middle","color":"#1A1A1A"},
   "encoding":{"x":{"field":"t","type":"quantitative"},"y":{"field":"d","type":"quantitative"},"text":{"field":"text"}}},
  {"data":{"name":"labels"},"transform":[{"filter":"datum.p==='C' && datum.k==='scaley'"}],"mark":{"type":"text","fontSize":10.5,"baseline":"middle","angle":270,"color":"#1A1A1A"},
   "encoding":{"x":{"field":"t","type":"quantitative"},"y":{"field":"d","type":"quantitative"},"text":{"field":"text"}}}
 ]},
{"width":146,"height":203.4,
 "title":{"text":"D","dx":-110,"dy":9},
 "layer":[
  {"data":{"name":"statsD"},"mark":{"type":"bar","width":41.7},
   "encoding":{"x":{"field":"g","type":"nominal","sort":null,"scale":{"domain":["NS309","T-peptide|+ NS309"],"paddingInner":0.35,"paddingOuter":0.313},
     "axis":{"title":null,"labelAngle":0,"labelFontSize":9.5,"labelExpr":"split(datum.label,'|')","labelLineHeight":9.5,"tickSize":4,"labelPadding":1}},
    "y":{"field":"mean","type":"quantitative","scale":{"domain":[0,100],"nice":false},
     "axis":{"values":[0,25,50,75,100],"title":["% Change in Diameter","(% Passive)"],"titleFontSize":10.6,"labelFontSize":10,"tickSize":5,"labelPadding":2,"titlePadding":5,"titleLineHeight":13.4}},
    "color":{"field":"g","type":"nominal","scale":{"domain":["NS309","T-peptide|+ NS309"],"range":["#A2A1A6","#FB8080"]},"legend":null}}},
  {"data":{"name":"ptsD"},"mark":{"type":"line","color":"black","strokeWidth":0.9},
   "encoding":{"x":{"field":"g","type":"nominal"},"xOffset":{"field":"j","type":"quantitative","scale":{"domain":[-1,1],"range":[12.85,28.85]}},"y":{"field":"v","type":"quantitative"},"detail":{"field":"pair"}}},
  {"data":{"name":"statsD"},"mark":{"type":"rule","strokeWidth":2,"color":"black"},
   "encoding":{"x":{"field":"g","type":"nominal"},"y":{"field":"lo","type":"quantitative"},"y2":{"field":"hi"}}},
  {"data":{"name":"capsD"},"mark":{"type":"tick","size":23,"thickness":2,"color":"black"},
   "encoding":{"x":{"field":"g","type":"nominal"},"y":{"field":"v","type":"quantitative"}}},
  {"data":{"name":"ptsD"},"mark":{"type":"circle","size":16,"color":"black","opacity":1},
   "encoding":{"x":{"field":"g","type":"nominal"},"xOffset":{"field":"j","type":"quantitative"},"y":{"field":"v","type":"quantitative"}}},
  {"data":{"name":"sigD"},"mark":{"type":"rule","strokeWidth":2,"color":"black"},
   "encoding":{"x":{"field":"a","type":"nominal"},"x2":{"field":"b"},"y":{"field":"y1","type":"quantitative"},"y2":{"field":"y2"}}},
  {"data":{"name":"nsD"},"mark":{"type":"text","fontSize":16,"dx":39,"baseline":"middle","color":"black"},
   "encoding":{"x":{"field":"a","type":"nominal"},"y":{"field":"y","type":"quantitative"},"text":{"field":"label"}}}
 ]},
{"width":420,"height":196.7,
 "title":{"text":"E","dx":2,"dy":31},
 "layer":[
  {"data":{"name":"trace"},"transform":[{"filter":"datum.p==='E'"}],"mark":{"type":"line","color":"#111111","strokeWidth":1.5,"strokeJoin":"round"},
   "encoding":{"x":{"field":"t","type":"quantitative","scale":{"domain":[-18.75,80.54],"nice":false,"zero":false},"axis":null},
    "y":{"field":"d","type":"quantitative","scale":{"domain":[113.18,144.9],"nice":false,"zero":false},"axis":null},"detail":{"field":"s"}}},
  {"data":{"name":"rules"},"transform":[{"filter":"datum.p==='E' && datum.k==='drug'"}],"mark":{"type":"rule","strokeWidth":2.4},
   "encoding":{"x":{"field":"t1","type":"quantitative"},"x2":{"field":"t2"},"y":{"field":"d1","type":"quantitative"},"y2":{"field":"d2"},
    "color":{"field":"a","type":"nominal","scale":{"domain":["Bradykinin","T-peptide","NS309","NONOate","0-Ca","x"],"range":["#1DAEEE","#F26135","#7F7F7F","#1A1A1A","#1A1A1A","#1A1A1A"]},"legend":null}}},
  {"data":{"name":"rules"},"transform":[{"filter":"datum.p==='E' && datum.k==='scale'"}],"mark":{"type":"rule","strokeWidth":2.2,"color":"#111111"},
   "encoding":{"x":{"field":"t1","type":"quantitative"},"x2":{"field":"t2"},"y":{"field":"d1","type":"quantitative"},"y2":{"field":"d2"}}},
  {"data":{"name":"labels"},"transform":[{"filter":"datum.p==='E' && datum.k==='agent'"}],"mark":{"type":"text","fontSize":13.7,"baseline":"middle"},
   "encoding":{"x":{"field":"t","type":"quantitative"},"y":{"field":"d","type":"quantitative"},"text":{"field":"text"},"color":{"field":"a","type":"nominal","legend":null}}},
  {"data":{"name":"labels"},"transform":[{"filter":"datum.p==='E' && datum.k==='small'"}],"mark":{"type":"text","fontSize":11,"baseline":"middle","color":"#1A1A1A"},
   "encoding":{"x":{"field":"t","type":"quantitative"},"y":{"field":"d","type":"quantitative"},"text":{"field":"text"}}},
  {"data":{"name":"labels"},"transform":[{"filter":"datum.p==='E' && datum.k==='um'"}],"mark":{"type":"text","fontSize":11.5,"font":"Liberation Serif","baseline":"middle","color":"#1A1A1A"},
   "encoding":{"x":{"field":"t","type":"quantitative"},"y":{"field":"d","type":"quantitative"},"text":{"field":"text"}}},
  {"data":{"name":"labels"},"transform":[{"filter":"datum.p==='E' && datum.k==='scale'"}],"mark":{"type":"text","fontSize":10.5,"baseline":"middle","color":"#1A1A1A"},
   "encoding":{"x":{"field":"t","type":"quantitative"},"y":{"field":"d","type":"quantitative"},"text":{"field":"text"}}},
  {"data":{"name":"labels"},"transform":[{"filter":"datum.p==='E' && datum.k==='scaley'"}],"mark":{"type":"text","fontSize":10.5,"baseline":"middle","angle":270,"color":"#1A1A1A"},
   "encoding":{"x":{"field":"t","type":"quantitative"},"y":{"field":"d","type":"quantitative"},"text":{"field":"text"}}}
 ]},
{"width":122.4,"height":169.4,
 "title":{"text":"F","dx":-110,"dy":-24},
 "layer":[
  {"data":{"name":"fcurve"},"mark":{"type":"line","strokeWidth":1.6,"interpolate":"monotone"},
   "encoding":{"x":{"field":"x","type":"quantitative","scale":{"domain":[-9.55,-6.55],"nice":false,"zero":false},
     "axis":{"values":[-9,-8.5,-8,-7.5,-7],"labelExpr":"datum.value % 1 === 0 ? replace(datum.label,'−','-') : ''","title":"Log (NO), [M]","labelFontSize":11,"titleFontSize":11,"tickSize":5,"labelPadding":1,"titlePadding":8}},
    "y":{"field":"y","type":"quantitative","scale":{"domain":[-9.5,125],"nice":false,"zero":false},
     "axis":{"values":[0,25,50,75,100,125],"tickCount":6,"labelOverlap":false,"labelFlush":false,"title":["% Change in Diameter","(% Passive)"],"titleFontSize":10.5,"labelFontSize":11,"tickSize":5,"labelPadding":2,"titlePadding":8,"titleLineHeight":11}},
    "color":{"field":"s","type":"nominal","scale":{"domain":["NONOate","NONOate + T-peptide"],"range":["#111111","#EE1C1C"]},
     "legend":{"orient":"none","legendX":7,"legendY":-15.3,"title":null,"labelFontSize":11,"labelColor":"black","labelFont":"Liberation Sans","symbolType":"M-1,0L1,0M-0.22,0A0.22,0.22,0,1,1,0.22,0A0.22,0.22,0,1,1,-0.22,0","symbolSize":144,"symbolStrokeWidth":1.7,"labelOffset":10,"rowPadding":3.3,"padding":0}}}},
  {"data":{"name":"fpts"},"mark":{"type":"rule","strokeWidth":1.2,"opacity":0.55},
   "encoding":{"x":{"field":"x","type":"quantitative"},"y":{"field":"lo","type":"quantitative"},"y2":{"field":"hi"},
    "stroke":{"field":"s","type":"nominal","scale":{"domain":["NONOate","NONOate + T-peptide"],"range":["#111111","#EE1C1C"]},"legend":null}}},
  {"data":{"name":"fpts"},"mark":{"type":"tick","orient":"horizontal","size":8,"thickness":1.2,"opacity":0.55},
   "encoding":{"x":{"field":"x","type":"quantitative"},"y":{"field":"lo","type":"quantitative"},
    "fill":{"field":"s","type":"nominal","scale":{"domain":["NONOate","NONOate + T-peptide"],"range":["#111111","#EE1C1C"]},"legend":null}}},
  {"data":{"name":"fpts"},"mark":{"type":"tick","orient":"horizontal","size":8,"thickness":1.2,"opacity":0.55},
   "encoding":{"x":{"field":"x","type":"quantitative"},"y":{"field":"hi","type":"quantitative"},"fill":{"field":"s","type":"nominal","legend":null}}},
  {"data":{"name":"fpts"},"mark":{"type":"circle","opacity":1,"size":26},
   "encoding":{"x":{"field":"x","type":"quantitative"},"y":{"field":"m","type":"quantitative"},"fill":{"field":"s","type":"nominal","legend":null}}},
  {"data":{"name":"fns"},"mark":{"type":"text","text":"}","fontSize":20,"dx":9.5,"baseline":"middle","color":"black"},
   "encoding":{"x":{"field":"x","type":"quantitative"},"y":{"field":"y","type":"quantitative"}}},
  {"data":{"name":"fns"},"mark":{"type":"text","text":"ns","fontSize":11,"dx":14,"align":"left","baseline":"middle","color":"black"},
   "encoding":{"x":{"field":"x","type":"quantitative"},"y":{"field":"y","type":"quantitative"}}}
 ]}
]
}
